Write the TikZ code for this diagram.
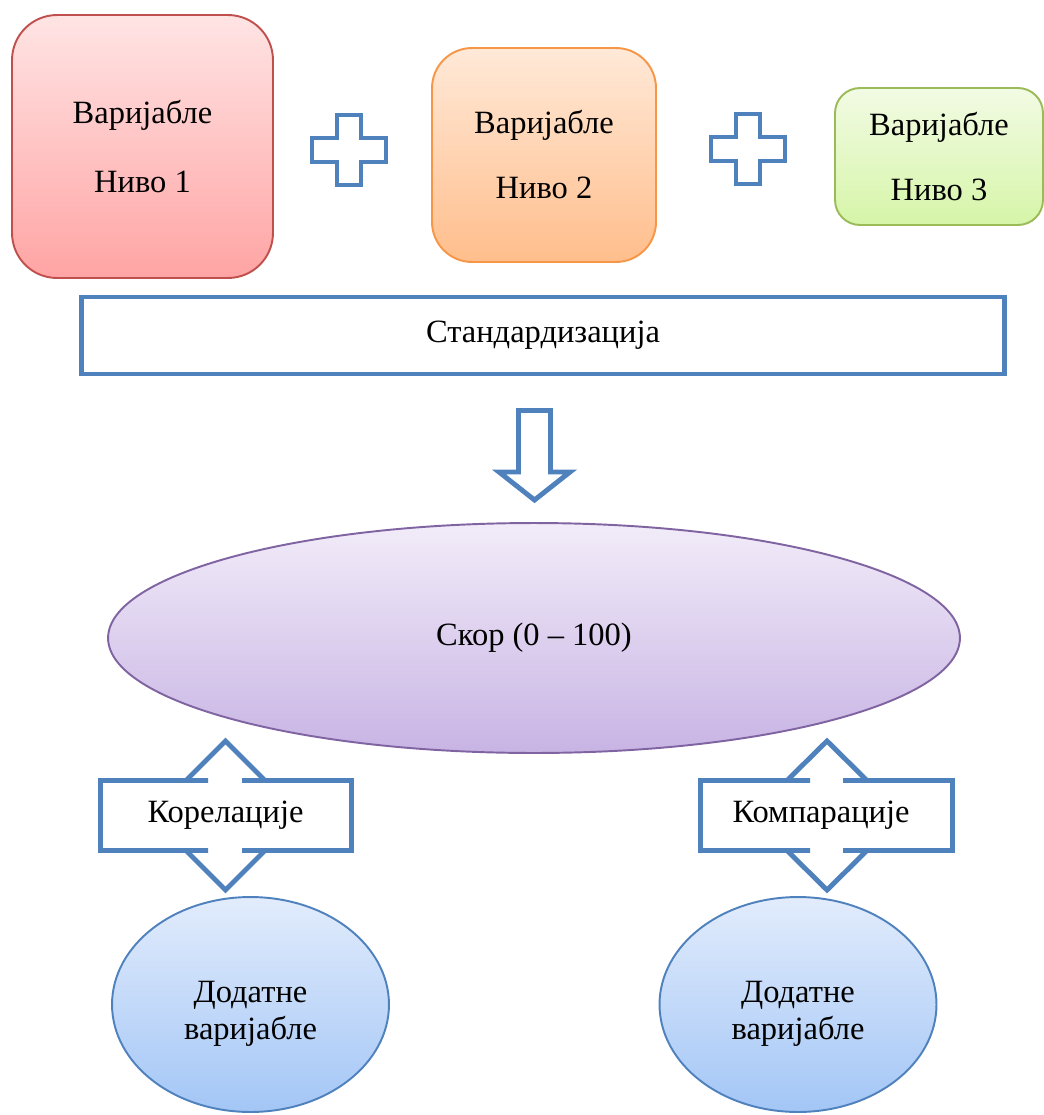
\documentclass[tikz,border=0pt]{standalone}
\usepackage{fontspec}
\setmainfont{Liberation Serif}
\usetikzlibrary{shapes.geometric}

\definecolor{arrowblue}{RGB}{79,129,189}
\definecolor{redline}{RGB}{192,80,77}
\definecolor{redtop}{RGB}{255,228,228}
\definecolor{redbot}{RGB}{255,164,164}
\definecolor{orangeline}{RGB}{247,150,70}
\definecolor{orangetop}{RGB}{255,233,216}
\definecolor{orangebot}{RGB}{255,190,140}
\definecolor{greenline}{RGB}{155,187,89}
\definecolor{greentop}{RGB}{242,251,228}
\definecolor{greenbot}{RGB}{214,245,168}
\definecolor{purpleline}{RGB}{128,100,162}
\definecolor{purpletop}{RGB}{242,236,249}
\definecolor{purplebot}{RGB}{200,180,228}
\definecolor{bluetop}{RGB}{226,236,252}
\definecolor{bluebot}{RGB}{163,198,246}

\tikzset{
  txt/.style={font=\fontsize{18.5}{37}\selectfont, align=center, text=black},
  levelbox/.style={rectangle, draw, line width=1.1pt, shading=axis, inner sep=0pt, txt},
  blockarrow/.style={draw=arrowblue, line width=2.8pt, line join=miter, fill=white},
  addvar/.style={ellipse, draw=arrowblue, line width=1.1pt, shading=axis, top color=bluetop,
    bottom color=bluebot, minimum width=5.54cm, minimum height=4.3cm, inner sep=0pt},
  addtxt/.style={txt, font=\fontsize{18.5}{21}\selectfont},
  plussign/.pic={
    \draw[blockarrow] (-12,-35) -- (12,-35) -- (12,-12) -- (37,-12) -- (37,12) -- (12,12)
      -- (12,35) -- (-12,35) -- (-12,12) -- (-37,12) -- (-37,-12) -- (-12,-12) -- cycle;
  },
}

\begin{document}
\begin{tikzpicture}[x=0.02cm,y=-0.02cm]
\useasboundingbox (0,0) rectangle (1044,1115);

% three levels of variables
\node[levelbox, draw=redline, top color=redtop, bottom color=redbot, rounded corners=0.9cm,
  minimum width=5.22cm, minimum height=5.26cm] (lvl1) at (142.5,146.5) {Варијабле\\[2pt]Ниво 1};
\node[levelbox, draw=orangeline, top color=orangetop, bottom color=orangebot, rounded corners=0.8cm,
  minimum width=4.48cm, minimum height=4.28cm] (lvl2) at (544,155) {Варијабле\\Ниво 2};
\node[levelbox, draw=greenline, top color=greentop, bottom color=greenbot, rounded corners=0.5cm,
  minimum width=4.16cm, minimum height=2.74cm] (lvl3) at (939,156.5) {Варијабле\\Ниво 3};

\pic at (349,150) {plussign};
\pic at (748,149) {plussign};

% standardization
\node[rectangle, draw=arrowblue, line width=2.8pt, fill=white, txt, minimum width=18.46cm,
  minimum height=1.54cm] (stand) at (543,335.5) {Стандардизација};

\draw[blockarrow] (518.5,410.5) -- (550.5,410.5) -- (550.5,472) -- (570,472) -- (534.5,500)
  -- (499,472) -- (518.5,472) -- cycle;

% score
\node[ellipse, draw=purpleline, line width=1.1pt, shading=axis, top color=purpletop,
  bottom color=purplebot, minimum width=17.04cm, minimum height=4.6cm, txt] (score) at (534,638)
  {Скор (0 -- 100)};

% correlations and comparisons
\draw[blockarrow] (100.5,780.5) -- (208,780.5) -- (186,780.5) -- (225.5,741) -- (265,780.5)
  -- (242,780.5) -- (351.5,780.5) -- (351.5,850.5) -- (242,850.5) -- (265,850.5) -- (225.5,890)
  -- (186,850.5) -- (208,850.5) -- (100.5,850.5) -- cycle;
\node[txt] (corr) at (225.5,815.5) {Корелације};

\draw[blockarrow] (700.5,780.5) -- (810,780.5) -- (787,780.5) -- (827,741) -- (867,780.5)
  -- (843,780.5) -- (952.5,780.5) -- (952.5,850.5) -- (843,850.5) -- (867,850.5) -- (827,890)
  -- (787,850.5) -- (810,850.5) -- (700.5,850.5) -- cycle;
\node[txt] (comp) at (821,815.5) {Компарације};

% additional variables
\node[addvar] (add1) at (250.5,1004.5) {};
\node[addtxt] (add1txt) at ([yshift=-0.18cm]add1.center) {Додатне\\варијабле};
\node[addvar] (add2) at (798,1004.5) {};
\node[addtxt] (add2txt) at ([yshift=-0.18cm]add2.center) {Додатне\\варијабле};

\end{tikzpicture}
\end{document}
